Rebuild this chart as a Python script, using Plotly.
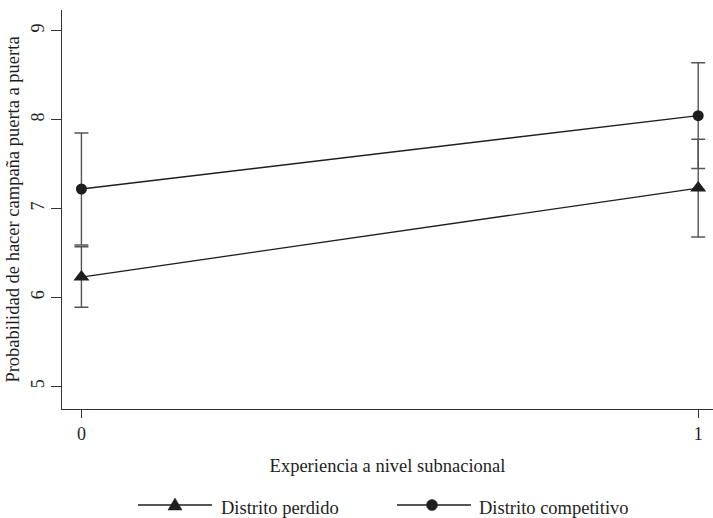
import plotly.graph_objects as go

# Predicted probability of door-to-door campaigning by subnational experience
experiencia = [0, 1]
tick_labels_x = ["0", "1"]

perdido_media = [6.23, 7.23]
perdido_ic = [0.34, 0.55]

competitivo_media = [7.22, 8.045]
competitivo_ic = [0.63, 0.595]

y_ticks = [5, 6, 7, 8, 9]

W, H = 713, 518
M_L, M_R, M_T, M_B = 62, 0, 10, 109
PLOT_W = W - M_L - M_R
PLOT_H = H - M_T - M_B

FONT = "Liberation Serif"
INK = "#1e1e1e"
BAR = "#555555"
TXT = 18.5


def px_x(px):
    return (px - M_L) / PLOT_W


def px_y(py):
    return (H - M_B - py) / PLOT_H


fig = go.Figure()

fig.add_trace(go.Scatter(
    x=experiencia, y=perdido_media, mode="lines+markers",
    name="Distrito perdido",
    line=dict(color=INK, width=1.3),
    marker=dict(symbol="triangle-up", size=14, color=INK),
    error_y=dict(type="data", array=perdido_ic, symmetric=True,
                 color=BAR, thickness=1.4, width=7),
    showlegend=False,
))

fig.add_trace(go.Scatter(
    x=experiencia, y=competitivo_media, mode="lines+markers",
    name="Distrito competitivo",
    line=dict(color=INK, width=1.3),
    marker=dict(symbol="circle", size=11, color=INK),
    error_y=dict(type="data", array=competitivo_ic, symmetric=True,
                 color=BAR, thickness=1.4, width=7),
    showlegend=False,
))

# Legend keys drawn below the axes
shapes = []
annotations = []
legend_y = px_y(505)
legend_items = [
    ("Distrito perdido", 138, 212, 175, "triangle", 219),
    ("Distrito competitivo", 397, 471, 432, "circle", 477),
]
for label, x0, x1, xm, sym, xt in legend_items:
    shapes.append(dict(type="line", xref="paper", yref="paper",
                       x0=px_x(x0), x1=px_x(x1), y0=legend_y, y1=legend_y,
                       line=dict(color=INK, width=1.3)))
    if sym == "triangle":
        shapes.append(dict(type="path", xref="paper", yref="paper",
                           xsizemode="pixel", ysizemode="pixel",
                           xanchor=px_x(xm), yanchor=legend_y,
                           path="M-7,-5 L7,-5 L0,7 Z",
                           fillcolor=INK, line=dict(color=INK, width=0.5)))
    else:
        shapes.append(dict(type="circle", xref="paper", yref="paper",
                           xsizemode="pixel", ysizemode="pixel",
                           xanchor=px_x(xm), yanchor=legend_y,
                           x0=-5.5, x1=5.5, y0=-5.5, y1=5.5,
                           fillcolor=INK, line=dict(color=INK, width=0.5)))
    annotations.append(dict(text=label, xref="paper", yref="paper",
                            x=px_x(xt), y=px_y(508), xanchor="left",
                            yanchor="middle", showarrow=False,
                            font=dict(family=FONT, size=TXT, color=INK)))

fig.update_layout(
    width=W, height=H,
    margin=dict(l=M_L, r=M_R, t=M_T, b=M_B, autoexpand=False),
    paper_bgcolor="white", plot_bgcolor="white",
    font=dict(family=FONT, size=TXT, color=INK),
    shapes=shapes,
    annotations=annotations,
    xaxis=dict(
        range=[-0.0315, 1.024],
        tickvals=experiencia, ticktext=tick_labels_x,
        ticks="outside", ticklen=8, tickwidth=1, tickcolor="#333",
        showline=True, linecolor="#333", linewidth=1.3,
        showgrid=False, zeroline=False,
        title=dict(text="Experiencia a nivel subnacional", standoff=16,
                   font=dict(family=FONT, size=TXT, color=INK)),
        tickfont=dict(family=FONT, size=18, color=INK),
        automargin=False,
    ),
    yaxis=dict(
        range=[4.746, 9.233],
        tickvals=y_ticks,
        ticks="outside", ticklen=10, tickwidth=1, tickcolor="#333",
        tickangle=-90,
        showline=True, linecolor="#333", linewidth=1.3,
        showgrid=False, zeroline=False,
        title=dict(text="Probabilidad de hacer campaña puerta a puerta",
                   standoff=3,
                   font=dict(family=FONT, size=TXT, color=INK)),
        tickfont=dict(family=FONT, size=18, color=INK),
        automargin=False,
    ),
)

fig.write_html("out.html")
